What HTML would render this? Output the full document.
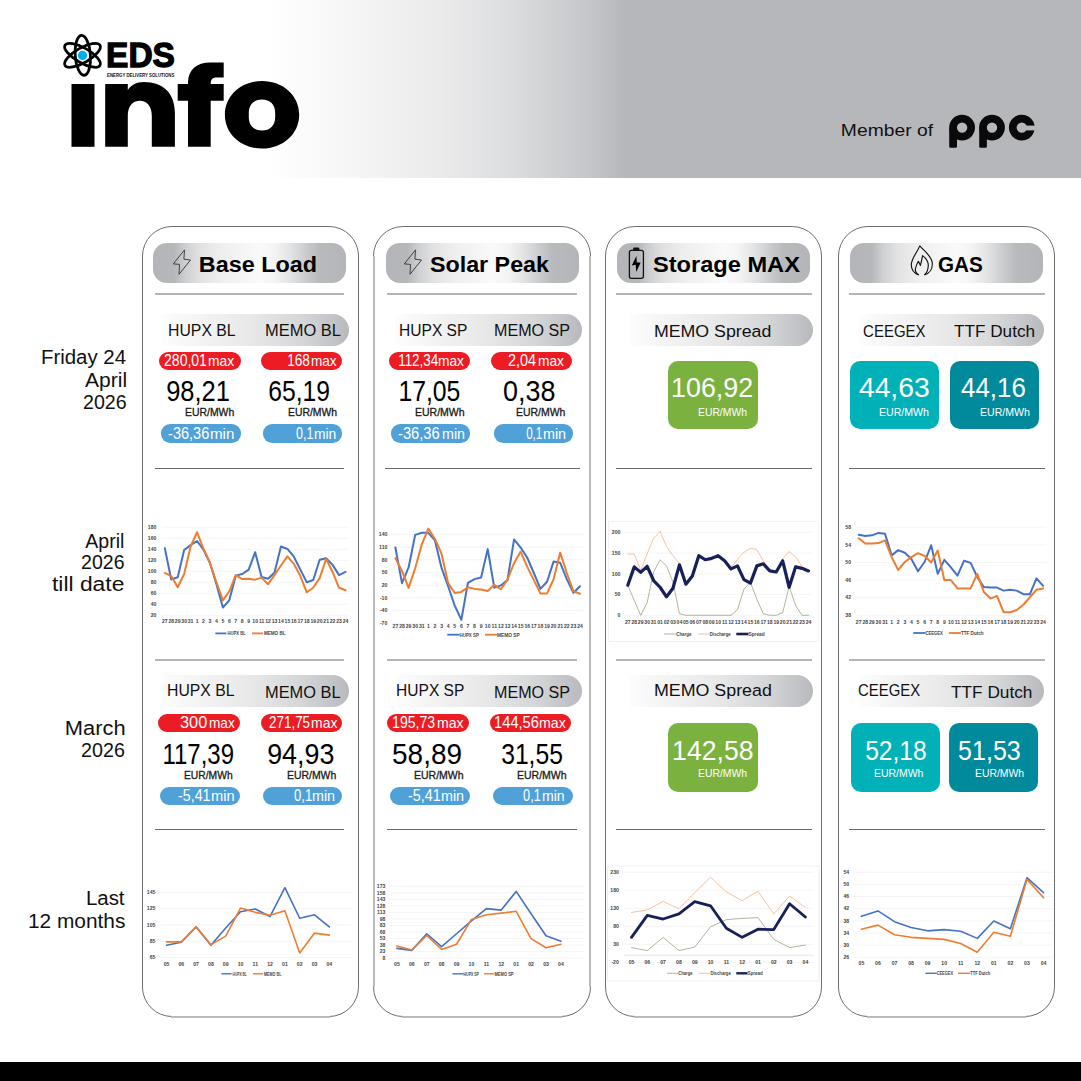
<!DOCTYPE html>
<html><head><meta charset="utf-8"><title>EDS info</title>
<style>
html,body{margin:0;padding:0;background:#fff}
body{width:1081px;height:1081px;position:relative;overflow:hidden;font-family:"Liberation Sans",sans-serif}
.t{position:absolute;white-space:nowrap}
.ax{font-family:"Liberation Sans",sans-serif;font-size:5.1px;fill:#444;font-weight:bold}
</style></head><body>
<div style="position:absolute;left:0px;top:0px;width:1081px;height:178px;background:linear-gradient(90deg,#fff 0px,#fff 268px,#f6f6f6 350px,#ebebec 440px,#dcdddf 512px,#c5c6c9 590px,#b6b7bb 625px,#b6b7bb 1081px)"></div>
<div style="position:absolute;left:0px;top:1062px;width:1081px;height:19px;background:#000"></div>
<svg style="position:absolute;left:0;top:0" width="400" height="178" viewBox="0 0 400 178">
<g fill="#000">
<rect x="71.5" y="84" width="23" height="62.8"/>
<path d="M105.2,84 H127.8 V90 C131,85.5 136,82 144,82 C163,82 174.9,93 174.9,113 V146.8 H151.8 V116 C151.8,106.5 147,100.8 139.8,100.8 C132.5,100.8 127.8,106.5 127.8,116 V146.8 H105.2 Z"/>
<path d="M188,146.8 V100.8 H177.7 V84 H188 V83 C188,70 196.5,62.6 210.5,62.6 H223.7 V77.5 H216.5 C212.5,77.5 210.7,79.5 210.7,83.5 V84 H223.7 V100.8 H210.7 V146.8 Z"/>
<path fill-rule="evenodd" d="M262,81 C283,81 299.2,95.5 299.2,114.8 C299.2,134 283,148.6 262,148.6 C241,148.6 224.9,134 224.9,114.8 C224.9,95.5 241,81 262,81 Z M262,99.6 C254,99.6 248.8,104.5 248.8,113 V117 C248.8,125.6 254,130.6 262,130.6 C270,130.6 275.2,125.6 275.2,117 V113 C275.2,104.5 270,99.6 262,99.6 Z"/>
</g>
<g fill="none" stroke="#000" stroke-width="2.8">
<ellipse cx="82.5" cy="55.3" rx="20.2" ry="7.4" transform="rotate(-30 82.5 55.3)"/>
<ellipse cx="82.5" cy="55.3" rx="20.2" ry="7.4" transform="rotate(30 82.5 55.3)"/>
<ellipse cx="82.8" cy="55.3" rx="7.6" ry="20" transform="rotate(-4 82.8 55.3)"/>
</g>
<circle cx="82.5" cy="55.4" r="4.6" fill="#00aeef"/>
</svg>
<div class="t" style="left:106.45px;top:37.00px;font-size:35px;line-height:35px;font-weight:bold;color:#000;transform:scaleX(0.9568);transform-origin:2.25px 29.63px;-webkit-text-stroke:1.3px #000;">EDS</div>
<div class="t" style="left:106.79px;top:73.00px;font-size:5.2px;line-height:5.2px;color:#111;transform:scaleX(0.8350);transform-origin:0.25px 4.40px;font-weight:bold;">ENERGY DELIVERY SOLUTIONS</div>
<div class="t" style="left:841.40px;top:122.00px;font-size:17.2px;line-height:17.2px;color:#111;transform:scaleX(1.1225);transform-origin:1.25px 14.56px;">Member of</div>
<svg style="position:absolute;left:940px;top:105px" width="110" height="50" viewBox="940 105 110 50">
<g fill="none" stroke="#0a0a0a" stroke-width="7.7">
<circle cx="962.1" cy="127.6" r="9.05"/><circle cx="992" cy="127.6" r="9.05"/><circle cx="1021.8" cy="127.6" r="9.05"/>
</g>
<g fill="#0a0a0a"><rect x="949.2" y="127.6" width="7.8" height="20.2" rx="1.4"/><rect x="979.2" y="127.6" width="7.7" height="20.2" rx="1.4"/></g>
<rect x="1024" y="125.6" width="13" height="4.8" fill="#b6b7bb"/>
</svg>
<div class="t" style="left:41.13px;top:348.00px;font-size:19.5px;line-height:19.5px;color:#111;transform:scaleX(1.0465);transform-origin:1.50px 16.51px;">Friday 24</div>
<div class="t" style="left:85.00px;top:371.00px;font-size:19.5px;line-height:19.5px;color:#111;transform:scaleX(1.0789);transform-origin:0.00px 16.51px;">April</div>
<div class="t" style="left:83.25px;top:393.00px;font-size:19.5px;line-height:19.5px;color:#111;transform:scaleX(1.0060);transform-origin:0.75px 16.51px;">2026</div>
<div class="t" style="left:85.30px;top:532.00px;font-size:19.5px;line-height:19.5px;color:#111;transform:scaleX(1.0000);transform-origin:0.00px 16.51px;">April</div>
<div class="t" style="left:81.10px;top:553.00px;font-size:19.5px;line-height:19.5px;color:#111;transform:scaleX(1.0000);transform-origin:0.75px 16.51px;">2026</div>
<div class="t" style="left:52.11px;top:575.00px;font-size:19.5px;line-height:19.5px;color:#111;transform:scaleX(1.1720);transform-origin:0.25px 16.51px;">till date</div>
<div class="t" style="left:64.92px;top:719.00px;font-size:19.5px;line-height:19.5px;color:#111;transform:scaleX(1.1223);transform-origin:1.50px 16.51px;">March</div>
<div class="t" style="left:81.44px;top:741.00px;font-size:19.5px;line-height:19.5px;color:#111;transform:scaleX(1.0108);transform-origin:0.75px 16.51px;">2026</div>
<div class="t" style="left:86.13px;top:889.00px;font-size:19.5px;line-height:19.5px;color:#111;transform:scaleX(1.0479);transform-origin:1.50px 16.51px;">Last</div>
<div class="t" style="left:28.06px;top:912.00px;font-size:19.5px;line-height:19.5px;color:#111;transform:scaleX(1.0700);transform-origin:1.25px 16.51px;">12 months</div>
<div style="position:absolute;left:142px;top:226px;width:217px;height:791px;box-sizing:border-box;border:1px solid #6e6e6e;border-radius:30px;background:#fff"></div>
<div style="position:absolute;left:171px;top:1016px;width:159px;height:2px;background:#bababa"></div>
<div style="position:absolute;left:373px;top:226px;width:218px;height:791px;box-sizing:border-box;border:1px solid #6e6e6e;border-radius:30px;background:#fff"></div>
<div style="position:absolute;left:402px;top:1016px;width:160px;height:2px;background:#bababa"></div>
<div style="position:absolute;left:373px;top:256px;width:2px;height:731px;background:#bababa"></div>
<div style="position:absolute;left:589px;top:256px;width:2px;height:731px;background:#bababa"></div>
<div style="position:absolute;left:605px;top:226px;width:217px;height:791px;box-sizing:border-box;border:1px solid #6e6e6e;border-radius:30px;background:#fff"></div>
<div style="position:absolute;left:634px;top:1016px;width:159px;height:2px;background:#bababa"></div>
<div style="position:absolute;left:838px;top:226px;width:217px;height:791px;box-sizing:border-box;border:1px solid #6e6e6e;border-radius:30px;background:#fff"></div>
<div style="position:absolute;left:867px;top:1016px;width:159px;height:2px;background:#bababa"></div>
<div style="position:absolute;left:153px;top:243px;width:192.5px;height:40px;border-radius:14px;background:linear-gradient(90deg,#b4b5b8 0%,#b6b7ba 11%,#cfd0d2 17%,#e3e3e4 25%,#eeeeef 35%,#fafafa 55%,#f4f4f4 63%,#e0e1e2 72%,#c9cacc 80%,#b9babd 86%,#b4b5b8 100%)"></div>
<div style="position:absolute;left:155px;top:293px;width:189.3px;height:2px;background:#b5b5b5"></div>
<div style="position:absolute;left:155px;top:467.7px;width:189.3px;height:1.3px;background:#6a6a6a"></div>
<div style="position:absolute;left:155px;top:659px;width:189.3px;height:2px;background:#b5b5b5"></div>
<div style="position:absolute;left:155px;top:828.7px;width:189.3px;height:1.3px;background:#6a6a6a"></div>
<div style="position:absolute;left:386px;top:243px;width:192.5px;height:40px;border-radius:14px;background:linear-gradient(90deg,#b4b5b8 0%,#b6b7ba 11%,#cfd0d2 17%,#e3e3e4 25%,#eeeeef 35%,#fafafa 55%,#f4f4f4 63%,#e0e1e2 72%,#c9cacc 80%,#b9babd 86%,#b4b5b8 100%)"></div>
<div style="position:absolute;left:386.8px;top:293px;width:190.59999999999997px;height:2px;background:#b5b5b5"></div>
<div style="position:absolute;left:384.7px;top:467.7px;width:195.7px;height:1.3px;background:#6a6a6a"></div>
<div style="position:absolute;left:386.8px;top:659px;width:190.59999999999997px;height:2px;background:#b5b5b5"></div>
<div style="position:absolute;left:386.8px;top:828.7px;width:190.59999999999997px;height:1.3px;background:#6a6a6a"></div>
<div style="position:absolute;left:617px;top:243px;width:192.5px;height:40px;border-radius:14px;background:linear-gradient(90deg,#b4b5b8 0%,#b6b7ba 11%,#cfd0d2 17%,#e3e3e4 25%,#eeeeef 35%,#fafafa 55%,#f4f4f4 63%,#e0e1e2 72%,#c9cacc 80%,#b9babd 86%,#b4b5b8 100%)"></div>
<div style="position:absolute;left:616.2px;top:293px;width:195.69999999999993px;height:2px;background:#b5b5b5"></div>
<div style="position:absolute;left:616.2px;top:467.7px;width:195.69999999999993px;height:1.3px;background:#6a6a6a"></div>
<div style="position:absolute;left:616.2px;top:659px;width:195.69999999999993px;height:2px;background:#b5b5b5"></div>
<div style="position:absolute;left:616.2px;top:828.7px;width:195.69999999999993px;height:1.3px;background:#6a6a6a"></div>
<div style="position:absolute;left:850px;top:243px;width:192.5px;height:40px;border-radius:14px;background:linear-gradient(90deg,#b4b5b8 0%,#b6b7ba 11%,#cfd0d2 17%,#e3e3e4 25%,#eeeeef 35%,#fafafa 55%,#f4f4f4 63%,#e0e1e2 72%,#c9cacc 80%,#b9babd 86%,#b4b5b8 100%)"></div>
<div style="position:absolute;left:848.9px;top:293px;width:195.80000000000007px;height:2px;background:#b5b5b5"></div>
<div style="position:absolute;left:848.9px;top:467.7px;width:195.80000000000007px;height:1.3px;background:#6a6a6a"></div>
<div style="position:absolute;left:848.9px;top:659px;width:195.80000000000007px;height:2px;background:#b5b5b5"></div>
<div style="position:absolute;left:848.9px;top:828.7px;width:195.80000000000007px;height:1.3px;background:#6a6a6a"></div>
<div class="t" style="left:198.62px;top:254.00px;font-size:21.2px;line-height:21.2px;font-weight:bold;color:#000;transform:scaleX(1.1026);transform-origin:1.25px 17.95px;">Base Load</div>
<div class="t" style="left:429.55px;top:254.00px;font-size:21.2px;line-height:21.2px;font-weight:bold;color:#000;transform:scaleX(1.0984);transform-origin:0.50px 17.95px;">Solar Peak</div>
<div class="t" style="left:652.64px;top:254.00px;font-size:21.2px;line-height:21.2px;font-weight:bold;color:#000;transform:scaleX(1.1147);transform-origin:0.50px 17.95px;">Storage MAX</div>
<div class="t" style="left:937.87px;top:254.00px;font-size:21.2px;line-height:21.2px;font-weight:bold;color:#000;transform:scaleX(0.9753);transform-origin:0.75px 17.95px;">GAS</div>
<svg style="position:absolute;left:165px;top:245px" width="32" height="34" viewBox="165 245 32 34"><path transform="translate(0 0)" d="M184.5,249.9 L173.3,263.9 L179.5,264.4 L179,274.3 L190.5,260 L183.9,259.2 Z" fill="none" stroke="#3a3a3a" stroke-width="0.95" stroke-linejoin="round"/></svg>
<svg style="position:absolute;left:395.6px;top:245px" width="32" height="34" viewBox="395.6 245 32 34"><path transform="translate(230.6 0)" d="M184.5,249.9 L173.3,263.9 L179.5,264.4 L179,274.3 L190.5,260 L183.9,259.2 Z" fill="none" stroke="#3a3a3a" stroke-width="0.95" stroke-linejoin="round"/></svg>
<svg style="position:absolute;left:622px;top:243px" width="30" height="40" viewBox="622 243 30 40"><path d="M633.1,250 V248.8 C633.1,248 633.8,247.5 634.6,247.5 H637.9 C638.7,247.5 639.4,248 639.4,248.8 V250 Z" fill="#111"/><rect x="629.4" y="250.3" width="14" height="28" rx="2" fill="none" stroke="#111" stroke-width="1.3"/><path d="M636.4,256 L631.8,265.4 L635.7,264.8 L636.2,271.9 L640.7,262.4 L636.8,262.6 Z" fill="#000"/></svg>
<svg style="position:absolute;left:905px;top:242px" width="35" height="38" viewBox="905 242 35 38"><g fill="none" stroke="#111" stroke-width="1.15" stroke-linejoin="round" stroke-linecap="round"><path d="M918.4,274.7 C914,273.2 911.3,269.5 911.3,264.8 C911.3,258.5 916.8,253 919.8,245.9 C924,250.8 931.4,255.8 932.2,262.5 C932.9,268.8 929.6,273.3 924.7,274.7"/><path d="M918.4,274.7 C916,273 914.9,270.8 915.5,268.4 C916.1,265.8 917,263.5 918.4,261.3 L920.4,265.4 C921.4,261.8 922,258.6 922.6,255.6 C926.2,258.3 928.4,261.8 928.3,265.6 C928.2,269.2 927,272.6 924.7,274.7"/></g></svg>
<div style="position:absolute;left:161px;top:313.5px;width:187.5px;height:32px;border-radius:0 16.2px 16.2px 0;background:linear-gradient(90deg,#fdfdfd 0%,#f4f4f4 20%,#e7e7e8 50%,#d5d6d8 75%,#c2c3c6 92%,#b8b9bc 100%)"></div>
<div style="position:absolute;left:161px;top:675.2px;width:187.5px;height:32px;border-radius:0 16.2px 16.2px 0;background:linear-gradient(90deg,#fdfdfd 0%,#f4f4f4 20%,#e7e7e8 50%,#d5d6d8 75%,#c2c3c6 92%,#b8b9bc 100%)"></div>
<div style="position:absolute;left:395.4px;top:313.5px;width:186.20000000000005px;height:32px;border-radius:0 16.2px 16.2px 0;background:linear-gradient(90deg,#fdfdfd 0%,#f4f4f4 20%,#e7e7e8 50%,#d5d6d8 75%,#c2c3c6 92%,#b8b9bc 100%)"></div>
<div style="position:absolute;left:395.4px;top:675.2px;width:186.20000000000005px;height:32px;border-radius:0 16.2px 16.2px 0;background:linear-gradient(90deg,#fdfdfd 0%,#f4f4f4 20%,#e7e7e8 50%,#d5d6d8 75%,#c2c3c6 92%,#b8b9bc 100%)"></div>
<div style="position:absolute;left:628.5px;top:313.5px;width:184.5px;height:32px;border-radius:0 16.2px 16.2px 0;background:linear-gradient(90deg,#fdfdfd 0%,#f4f4f4 20%,#e7e7e8 50%,#d5d6d8 75%,#c2c3c6 92%,#b8b9bc 100%)"></div>
<div style="position:absolute;left:628.5px;top:675.2px;width:184.5px;height:32px;border-radius:0 16.2px 16.2px 0;background:linear-gradient(90deg,#fdfdfd 0%,#f4f4f4 20%,#e7e7e8 50%,#d5d6d8 75%,#c2c3c6 92%,#b8b9bc 100%)"></div>
<div style="position:absolute;left:859.4px;top:313.5px;width:184.60000000000002px;height:32px;border-radius:0 16.2px 16.2px 0;background:linear-gradient(90deg,#fdfdfd 0%,#f4f4f4 20%,#e7e7e8 50%,#d5d6d8 75%,#c2c3c6 92%,#b8b9bc 100%)"></div>
<div style="position:absolute;left:859.4px;top:675.2px;width:184.60000000000002px;height:32px;border-radius:0 16.2px 16.2px 0;background:linear-gradient(90deg,#fdfdfd 0%,#f4f4f4 20%,#e7e7e8 50%,#d5d6d8 75%,#c2c3c6 92%,#b8b9bc 100%)"></div>
<div class="t" style="left:168.22px;top:323.00px;font-size:16.7px;line-height:16.7px;color:#111;transform:scaleX(0.9457);transform-origin:1.25px 14.14px;">HUPX BL</div>
<div class="t" style="left:264.77px;top:323.00px;font-size:16.7px;line-height:16.7px;color:#111;transform:scaleX(0.9854);transform-origin:1.25px 14.14px;">MEMO BL</div>
<div class="t" style="left:399.44px;top:323.00px;font-size:16.7px;line-height:16.7px;color:#111;transform:scaleX(0.9315);transform-origin:1.25px 14.14px;">HUPX SP</div>
<div class="t" style="left:493.70px;top:323.00px;font-size:16.7px;line-height:16.7px;color:#111;transform:scaleX(0.9636);transform-origin:1.25px 14.14px;">MEMO SP</div>
<div class="t" style="left:654.27px;top:324.00px;font-size:16.7px;line-height:16.7px;color:#111;transform:scaleX(1.0642);transform-origin:1.25px 14.14px;">MEMO Spread</div>
<div class="t" style="left:862.63px;top:324.00px;font-size:16.7px;line-height:16.7px;color:#111;transform:scaleX(0.8989);transform-origin:0.75px 14.14px;">CEEGEX</div>
<div class="t" style="left:954.34px;top:324.00px;font-size:16.7px;line-height:16.7px;color:#111;transform:scaleX(1.0284);transform-origin:0.25px 14.14px;">TTF Dutch</div>
<div class="t" style="left:166.92px;top:683.00px;font-size:16.7px;line-height:16.7px;color:#111;transform:scaleX(0.9443);transform-origin:1.25px 14.14px;">HUPX BL</div>
<div class="t" style="left:265.07px;top:685.00px;font-size:16.7px;line-height:16.7px;color:#111;transform:scaleX(0.9828);transform-origin:1.25px 14.14px;">MEMO BL</div>
<div class="t" style="left:396.14px;top:683.00px;font-size:16.7px;line-height:16.7px;color:#111;transform:scaleX(0.9315);transform-origin:1.25px 14.14px;">HUPX SP</div>
<div class="t" style="left:493.70px;top:685.00px;font-size:16.7px;line-height:16.7px;color:#111;transform:scaleX(0.9636);transform-origin:1.25px 14.14px;">MEMO SP</div>
<div class="t" style="left:654.26px;top:683.00px;font-size:16.7px;line-height:16.7px;color:#111;transform:scaleX(1.0688);transform-origin:1.25px 14.14px;">MEMO Spread</div>
<div class="t" style="left:858.33px;top:683.00px;font-size:16.7px;line-height:16.7px;color:#111;transform:scaleX(0.8931);transform-origin:0.75px 14.14px;">CEEGEX</div>
<div class="t" style="left:951.34px;top:685.00px;font-size:16.7px;line-height:16.7px;color:#111;transform:scaleX(1.0335);transform-origin:0.25px 14.14px;">TTF Dutch</div>
<div style="position:absolute;left:159.2px;top:351.9px;width:81.70000000000002px;height:18.2px;border-radius:9.1px;background:#ec1c24"></div>
<div class="t" style="left:164.34px;top:353.00px;font-size:16px;line-height:16px;color:#fff;transform:scaleX(0.8737);transform-origin:0.75px 13.54px;">280,01</div>
<div class="t" style="left:208.26px;top:355.00px;font-size:13.9px;line-height:13.9px;color:#fff;transform:scaleX(0.9922);transform-origin:0.75px 11.77px;">max</div>
<div style="position:absolute;left:261px;top:351.9px;width:81.39999999999998px;height:18.2px;border-radius:9.1px;background:#ec1c24"></div>
<div class="t" style="left:286.85px;top:353.00px;font-size:16px;line-height:16px;color:#fff;transform:scaleX(0.8520);transform-origin:1.00px 13.54px;">168</div>
<div class="t" style="left:310.87px;top:355.00px;font-size:13.9px;line-height:13.9px;color:#fff;transform:scaleX(0.9765);transform-origin:0.75px 11.77px;">max</div>
<div style="position:absolute;left:388.6px;top:351.9px;width:81.19999999999999px;height:18.2px;border-radius:9.1px;background:#ec1c24"></div>
<div class="t" style="left:397.66px;top:353.00px;font-size:16px;line-height:16px;color:#fff;transform:scaleX(0.8389);transform-origin:1.00px 13.54px;">112,34</div>
<div class="t" style="left:438.06px;top:355.00px;font-size:13.9px;line-height:13.9px;color:#fff;transform:scaleX(0.9882);transform-origin:0.75px 11.77px;">max</div>
<div style="position:absolute;left:490.5px;top:351.9px;width:81.20000000000005px;height:18.2px;border-radius:9.1px;background:#ec1c24"></div>
<div class="t" style="left:507.93px;top:353.00px;font-size:16px;line-height:16px;color:#fff;transform:scaleX(0.9000);transform-origin:0.75px 13.54px;">2,04</div>
<div class="t" style="left:537.96px;top:355.00px;font-size:13.9px;line-height:13.9px;color:#fff;transform:scaleX(0.9882);transform-origin:0.75px 11.77px;">max</div>
<div class="t" style="left:166.24px;top:376.00px;font-size:30px;line-height:30px;color:#000;transform:scaleX(0.8497);transform-origin:1.25px 25.39px;">98,21</div>
<div class="t" style="left:268.07px;top:376.00px;font-size:30px;line-height:30px;color:#000;transform:scaleX(0.8221);transform-origin:1.50px 25.39px;">65,19</div>
<div class="t" style="left:397.54px;top:376.00px;font-size:30px;line-height:30px;color:#000;transform:scaleX(0.8251);transform-origin:2.25px 25.39px;">17,05</div>
<div class="t" style="left:503.10px;top:376.00px;font-size:30px;line-height:30px;color:#000;transform:scaleX(0.8978);transform-origin:1.00px 25.39px;">0,38</div>
<div class="t" style="left:185.35px;top:408.00px;font-size:10.4px;line-height:10.4px;color:#1a1a1a;transform:scaleX(1.0031);transform-origin:0.75px 8.80px;-webkit-text-stroke:0.3px #1a1a1a;">EUR/MWh</div>
<div class="t" style="left:287.95px;top:408.00px;font-size:10.4px;line-height:10.4px;color:#1a1a1a;transform:scaleX(1.0010);transform-origin:0.75px 8.80px;-webkit-text-stroke:0.3px #1a1a1a;">EUR/MWh</div>
<div class="t" style="left:414.94px;top:408.00px;font-size:10.4px;line-height:10.4px;color:#1a1a1a;transform:scaleX(1.0115);transform-origin:0.75px 8.80px;-webkit-text-stroke:0.3px #1a1a1a;">EUR/MWh</div>
<div class="t" style="left:516.25px;top:408.00px;font-size:10.4px;line-height:10.4px;color:#1a1a1a;transform:scaleX(1.0052);transform-origin:0.75px 8.80px;-webkit-text-stroke:0.3px #1a1a1a;">EUR/MWh</div>
<div style="position:absolute;left:161.4px;top:424.4px;width:79.19999999999999px;height:18.2px;border-radius:9.1px;background:#4fa1d8"></div>
<div class="t" style="left:168.35px;top:426.00px;font-size:16px;line-height:16px;color:#fff;transform:scaleX(0.9085);transform-origin:0.50px 13.54px;">-36,36</div>
<div class="t" style="left:210.18px;top:428.00px;font-size:13.9px;line-height:13.9px;color:#fff;transform:scaleX(1.0952);transform-origin:0.75px 11.77px;">min</div>
<div style="position:absolute;left:263px;top:424.4px;width:79.39999999999998px;height:18.2px;border-radius:9.1px;background:#4fa1d8"></div>
<div class="t" style="left:296.41px;top:426.00px;font-size:16px;line-height:16px;color:#fff;transform:scaleX(0.7762);transform-origin:0.50px 13.54px;">0,1</div>
<div class="t" style="left:313.85px;top:428.00px;font-size:13.9px;line-height:13.9px;color:#fff;transform:scaleX(0.9952);transform-origin:0.75px 11.77px;">min</div>
<div style="position:absolute;left:391.3px;top:424.4px;width:78.80000000000001px;height:18.2px;border-radius:9.1px;background:#4fa1d8"></div>
<div class="t" style="left:398.04px;top:426.00px;font-size:16px;line-height:16px;color:#fff;transform:scaleX(0.9175);transform-origin:0.50px 13.54px;">-36,36</div>
<div class="t" style="left:441.63px;top:428.00px;font-size:13.9px;line-height:13.9px;color:#fff;transform:scaleX(1.0286);transform-origin:0.75px 11.77px;">min</div>
<div style="position:absolute;left:494.1px;top:424.4px;width:78.5px;height:18.2px;border-radius:9.1px;background:#4fa1d8"></div>
<div class="t" style="left:526.24px;top:426.00px;font-size:16px;line-height:16px;color:#fff;transform:scaleX(0.7286);transform-origin:0.50px 13.54px;">0,1</div>
<div class="t" style="left:542.93px;top:428.00px;font-size:13.9px;line-height:13.9px;color:#fff;transform:scaleX(1.0333);transform-origin:0.75px 11.77px;">min</div>
<div style="position:absolute;left:158px;top:714px;width:82px;height:18.2px;border-radius:9.1px;background:#ec1c24"></div>
<div class="t" style="left:180.19px;top:715.00px;font-size:16px;line-height:16px;color:#fff;transform:scaleX(1.0214);transform-origin:0.50px 13.54px;">300</div>
<div class="t" style="left:208.66px;top:717.00px;font-size:13.9px;line-height:13.9px;color:#fff;transform:scaleX(0.9804);transform-origin:0.75px 11.77px;">max</div>
<div style="position:absolute;left:261px;top:714px;width:81.39999999999998px;height:18.2px;border-radius:9.1px;background:#ec1c24"></div>
<div class="t" style="left:268.67px;top:715.00px;font-size:16px;line-height:16px;color:#fff;transform:scaleX(0.8358);transform-origin:0.75px 13.54px;">271,75</div>
<div class="t" style="left:310.64px;top:717.00px;font-size:13.9px;line-height:13.9px;color:#fff;transform:scaleX(1.0078);transform-origin:0.75px 11.77px;">max</div>
<div style="position:absolute;left:387.3px;top:714px;width:81.89999999999998px;height:18.2px;border-radius:9.1px;background:#ec1c24"></div>
<div class="t" style="left:392.42px;top:715.00px;font-size:16px;line-height:16px;color:#fff;transform:scaleX(0.8804);transform-origin:1.00px 13.54px;">195,73</div>
<div class="t" style="left:436.54px;top:717.00px;font-size:13.9px;line-height:13.9px;color:#fff;transform:scaleX(1.0157);transform-origin:0.75px 11.77px;">max</div>
<div style="position:absolute;left:489.9px;top:714px;width:81.60000000000002px;height:18.2px;border-radius:9.1px;background:#ec1c24"></div>
<div class="t" style="left:493.98px;top:715.00px;font-size:16px;line-height:16px;color:#fff;transform:scaleX(0.9164);transform-origin:1.00px 13.54px;">144,56</div>
<div class="t" style="left:539.04px;top:717.00px;font-size:13.9px;line-height:13.9px;color:#fff;transform:scaleX(1.0196);transform-origin:0.75px 11.77px;">max</div>
<div class="t" style="left:161.80px;top:739.00px;font-size:30px;line-height:30px;color:#000;transform:scaleX(0.7988);transform-origin:2.25px 25.39px;">117,39</div>
<div class="t" style="left:267.48px;top:739.00px;font-size:30px;line-height:30px;color:#000;transform:scaleX(0.8948);transform-origin:1.25px 25.39px;">94,93</div>
<div class="t" style="left:391.67px;top:739.00px;font-size:30px;line-height:30px;color:#000;transform:scaleX(0.9315);transform-origin:1.00px 25.39px;">58,89</div>
<div class="t" style="left:500.68px;top:739.00px;font-size:30px;line-height:30px;color:#000;transform:scaleX(0.8219);transform-origin:1.00px 25.39px;">31,55</div>
<div class="t" style="left:184.26px;top:771.00px;font-size:10.4px;line-height:10.4px;color:#1a1a1a;transform:scaleX(0.9906);transform-origin:0.75px 8.80px;-webkit-text-stroke:0.3px #1a1a1a;">EUR/MWh</div>
<div class="t" style="left:286.75px;top:771.00px;font-size:10.4px;line-height:10.4px;color:#1a1a1a;transform:scaleX(1.0031);transform-origin:0.75px 8.80px;-webkit-text-stroke:0.3px #1a1a1a;">EUR/MWh</div>
<div class="t" style="left:413.54px;top:771.00px;font-size:10.4px;line-height:10.4px;color:#1a1a1a;transform:scaleX(1.0115);transform-origin:0.75px 8.80px;-webkit-text-stroke:0.3px #1a1a1a;">EUR/MWh</div>
<div class="t" style="left:517.44px;top:771.00px;font-size:10.4px;line-height:10.4px;color:#1a1a1a;transform:scaleX(1.0115);transform-origin:0.75px 8.80px;-webkit-text-stroke:0.3px #1a1a1a;">EUR/MWh</div>
<div style="position:absolute;left:160.4px;top:786.6px;width:79.4px;height:18.2px;border-radius:9.1px;background:#4fa1d8"></div>
<div class="t" style="left:177.55px;top:788.00px;font-size:16px;line-height:16px;color:#fff;transform:scaleX(0.8908);transform-origin:0.50px 13.54px;">-5,41</div>
<div class="t" style="left:210.71px;top:790.00px;font-size:13.9px;line-height:13.9px;color:#fff;transform:scaleX(1.0571);transform-origin:0.75px 11.77px;">min</div>
<div style="position:absolute;left:263px;top:786.6px;width:79.39999999999998px;height:18.2px;border-radius:9.1px;background:#4fa1d8"></div>
<div class="t" style="left:293.89px;top:788.00px;font-size:16px;line-height:16px;color:#fff;transform:scaleX(0.8143);transform-origin:0.50px 13.54px;">0,1</div>
<div class="t" style="left:312.33px;top:790.00px;font-size:13.9px;line-height:13.9px;color:#fff;transform:scaleX(1.0286);transform-origin:0.75px 11.77px;">min</div>
<div style="position:absolute;left:390px;top:786.6px;width:79.89999999999998px;height:18.2px;border-radius:9.1px;background:#4fa1d8"></div>
<div class="t" style="left:407.85px;top:788.00px;font-size:16px;line-height:16px;color:#fff;transform:scaleX(0.8965);transform-origin:0.50px 13.54px;">-5,41</div>
<div class="t" style="left:440.83px;top:790.00px;font-size:13.9px;line-height:13.9px;color:#fff;transform:scaleX(1.0286);transform-origin:0.75px 11.77px;">min</div>
<div style="position:absolute;left:492.5px;top:786.6px;width:80.0px;height:18.2px;border-radius:9.1px;background:#4fa1d8"></div>
<div class="t" style="left:522.80px;top:788.00px;font-size:16px;line-height:16px;color:#fff;transform:scaleX(0.7905);transform-origin:0.50px 13.54px;">0,1</div>
<div class="t" style="left:541.74px;top:790.00px;font-size:13.9px;line-height:13.9px;color:#fff;transform:scaleX(1.0143);transform-origin:0.75px 11.77px;">min</div>
<div style="position:absolute;left:668.3px;top:361.3px;width:89.30000000000007px;height:68.0px;border-radius:10px;background:#7bb23f"></div>
<div class="t" style="left:671.11px;top:373.00px;font-size:28.3px;line-height:28.3px;color:#fff;transform:scaleX(0.9465);transform-origin:2.00px 23.96px;">106,92</div>
<div class="t" style="left:697.65px;top:408.00px;font-size:10.4px;line-height:10.4px;color:#fff;transform:scaleX(0.9969);transform-origin:0.75px 8.80px;">EUR/MWh</div>
<div style="position:absolute;left:850.1px;top:361.3px;width:89.0px;height:68.0px;border-radius:10px;background:#00b1b8"></div>
<div class="t" style="left:858.90px;top:373.00px;font-size:28.3px;line-height:28.3px;color:#fff;transform:scaleX(1.0000);transform-origin:0.50px 23.96px;">44,63</div>
<div class="t" style="left:879.04px;top:408.00px;font-size:10.4px;line-height:10.4px;color:#fff;transform:scaleX(1.0178);transform-origin:0.75px 8.80px;">EUR/MWh</div>
<div style="position:absolute;left:949.7px;top:361.3px;width:89.39999999999986px;height:68.0px;border-radius:10px;background:#008a9c"></div>
<div class="t" style="left:960.94px;top:373.00px;font-size:28.3px;line-height:28.3px;color:#fff;transform:scaleX(0.9145);transform-origin:0.50px 23.96px;">44,16</div>
<div class="t" style="left:980.04px;top:408.00px;font-size:10.4px;line-height:10.4px;color:#fff;transform:scaleX(1.0178);transform-origin:0.75px 8.80px;">EUR/MWh</div>
<div style="position:absolute;left:667.8px;top:722.8px;width:90.10000000000002px;height:68.80000000000007px;border-radius:10px;background:#7bb23f"></div>
<div class="t" style="left:671.62px;top:736.00px;font-size:28.3px;line-height:28.3px;color:#fff;transform:scaleX(0.9417);transform-origin:2.00px 23.96px;">142,58</div>
<div class="t" style="left:697.75px;top:769.00px;font-size:10.4px;line-height:10.4px;color:#fff;transform:scaleX(0.9990);transform-origin:0.75px 8.80px;">EUR/MWh</div>
<div style="position:absolute;left:850.5px;top:722.8px;width:89.10000000000002px;height:68.80000000000007px;border-radius:10px;background:#00b1b8"></div>
<div class="t" style="left:864.93px;top:736.00px;font-size:28.3px;line-height:28.3px;color:#fff;transform:scaleX(0.8686);transform-origin:1.00px 23.96px;">52,18</div>
<div class="t" style="left:873.94px;top:769.00px;font-size:10.4px;line-height:10.4px;color:#fff;transform:scaleX(1.0073);transform-origin:0.75px 8.80px;">EUR/MWh</div>
<div style="position:absolute;left:949.2px;top:722.8px;width:89.0px;height:68.80000000000007px;border-radius:10px;background:#008a9c"></div>
<div class="t" style="left:958.22px;top:736.00px;font-size:28.3px;line-height:28.3px;color:#fff;transform:scaleX(0.8847);transform-origin:1.00px 23.96px;">51,53</div>
<div class="t" style="left:975.45px;top:769.00px;font-size:10.4px;line-height:10.4px;color:#fff;transform:scaleX(1.0010);transform-origin:0.75px 8.80px;">EUR/MWh</div>
<svg style="position:absolute;left:0;top:0" width="1081" height="1081" viewBox="0 0 1081 1081"><rect x="607.4" y="866" width="211.7" height="114.9" fill="none" stroke="#eeeeee" stroke-width="0.8"/><rect x="608.5" y="521.3" width="209.6" height="120.2" fill="none" stroke="#eeeeee" stroke-width="0.8"/><line x1="161.2" x2="348.5" y1="527.20" y2="527.20" stroke="#f1f1f1" stroke-width="0.8"/><text x="156.3" y="529.00" text-anchor="end" class="ax">180</text><line x1="161.2" x2="348.5" y1="538.21" y2="538.21" stroke="#f1f1f1" stroke-width="0.8"/><text x="156.3" y="540.01" text-anchor="end" class="ax">160</text><line x1="161.2" x2="348.5" y1="549.23" y2="549.23" stroke="#f1f1f1" stroke-width="0.8"/><text x="156.3" y="551.02" text-anchor="end" class="ax">140</text><line x1="161.2" x2="348.5" y1="560.24" y2="560.24" stroke="#f1f1f1" stroke-width="0.8"/><text x="156.3" y="562.04" text-anchor="end" class="ax">120</text><line x1="161.2" x2="348.5" y1="571.25" y2="571.25" stroke="#f1f1f1" stroke-width="0.8"/><text x="156.3" y="573.05" text-anchor="end" class="ax">100</text><line x1="161.2" x2="348.5" y1="582.26" y2="582.26" stroke="#f1f1f1" stroke-width="0.8"/><text x="156.3" y="584.06" text-anchor="end" class="ax">80</text><line x1="161.2" x2="348.5" y1="593.27" y2="593.27" stroke="#f1f1f1" stroke-width="0.8"/><text x="156.3" y="595.07" text-anchor="end" class="ax">60</text><line x1="161.2" x2="348.5" y1="604.29" y2="604.29" stroke="#f1f1f1" stroke-width="0.8"/><text x="156.3" y="606.09" text-anchor="end" class="ax">40</text><line x1="161.2" x2="348.5" y1="615.30" y2="615.30" stroke="#f1f1f1" stroke-width="0.8"/><text x="156.3" y="617.10" text-anchor="end" class="ax">20</text><text x="164.80" y="622.60" text-anchor="middle" class="ax">27</text><text x="171.25" y="622.60" text-anchor="middle" class="ax">28</text><text x="177.71" y="622.60" text-anchor="middle" class="ax">29</text><text x="184.16" y="622.60" text-anchor="middle" class="ax">30</text><text x="190.61" y="622.60" text-anchor="middle" class="ax">31</text><text x="197.07" y="622.60" text-anchor="middle" class="ax">1</text><text x="203.52" y="622.60" text-anchor="middle" class="ax">2</text><text x="209.98" y="622.60" text-anchor="middle" class="ax">3</text><text x="216.43" y="622.60" text-anchor="middle" class="ax">4</text><text x="222.88" y="622.60" text-anchor="middle" class="ax">5</text><text x="229.34" y="622.60" text-anchor="middle" class="ax">6</text><text x="235.79" y="622.60" text-anchor="middle" class="ax">7</text><text x="242.24" y="622.60" text-anchor="middle" class="ax">8</text><text x="248.70" y="622.60" text-anchor="middle" class="ax">9</text><text x="255.15" y="622.60" text-anchor="middle" class="ax">10</text><text x="261.60" y="622.60" text-anchor="middle" class="ax">11</text><text x="268.06" y="622.60" text-anchor="middle" class="ax">12</text><text x="274.51" y="622.60" text-anchor="middle" class="ax">13</text><text x="280.96" y="622.60" text-anchor="middle" class="ax">14</text><text x="287.42" y="622.60" text-anchor="middle" class="ax">15</text><text x="293.87" y="622.60" text-anchor="middle" class="ax">16</text><text x="300.33" y="622.60" text-anchor="middle" class="ax">17</text><text x="306.78" y="622.60" text-anchor="middle" class="ax">18</text><text x="313.23" y="622.60" text-anchor="middle" class="ax">19</text><text x="319.69" y="622.60" text-anchor="middle" class="ax">20</text><text x="326.14" y="622.60" text-anchor="middle" class="ax">21</text><text x="332.59" y="622.60" text-anchor="middle" class="ax">22</text><text x="339.05" y="622.60" text-anchor="middle" class="ax">23</text><text x="345.50" y="622.60" text-anchor="middle" class="ax">24</text><polyline points="164.80,548.12 171.25,579.51 177.71,577.31 184.16,550.00 190.61,545.10 197.07,540.97 203.52,549.78 209.98,562.99 216.43,584.19 222.88,607.59 229.34,600.05 235.79,575.65 242.24,574.00 248.70,569.60 255.15,552.20 261.60,577.03 268.06,578.68 274.51,572.57 280.96,546.47 287.42,548.95 293.87,556.71 300.33,569.60 306.78,582.26 313.23,580.06 319.69,559.69 326.14,558.31 332.59,564.86 339.05,575.10 345.50,571.97" fill="none" stroke="#4472c4" stroke-width="2.0" stroke-linejoin="round" stroke-linecap="round"/><polyline points="164.80,572.96 171.25,576.04 177.71,587.22 184.16,574.00 190.61,546.47 197.07,532.27 203.52,548.67 209.98,562.99 216.43,582.26 222.88,600.43 229.34,591.29 235.79,575.10 242.24,579.07 248.70,578.68 255.15,579.67 261.60,577.64 268.06,584.19 274.51,575.10 280.96,565.47 287.42,556.38 293.87,563.82 300.33,576.04 306.78,592.28 313.23,587.77 319.69,578.08 326.14,558.75 332.59,571.97 339.05,587.77 345.50,590.25" fill="none" stroke="#ed7d31" stroke-width="2.0" stroke-linejoin="round" stroke-linecap="round"/><line x1="215.3" x2="226.5" y1="633.4" y2="633.4" stroke="#4472c4" stroke-width="1.8"/><text x="227.5" y="635.1999999999999" class="ax" textLength="18.3" lengthAdjust="spacingAndGlyphs">HUPX BL</text><line x1="252" x2="263" y1="633.4" y2="633.4" stroke="#ed7d31" stroke-width="1.8"/><text x="264" y="635.1999999999999" class="ax" textLength="21.5" lengthAdjust="spacingAndGlyphs">MEMO BL</text><line x1="392.1" x2="583.3" y1="534.30" y2="534.30" stroke="#f1f1f1" stroke-width="0.8"/><text x="387.3" y="536.10" text-anchor="end" class="ax">140</text><line x1="392.1" x2="583.3" y1="547.01" y2="547.01" stroke="#f1f1f1" stroke-width="0.8"/><text x="387.3" y="548.81" text-anchor="end" class="ax">110</text><line x1="392.1" x2="583.3" y1="559.73" y2="559.73" stroke="#f1f1f1" stroke-width="0.8"/><text x="387.3" y="561.53" text-anchor="end" class="ax">80</text><line x1="392.1" x2="583.3" y1="572.44" y2="572.44" stroke="#f1f1f1" stroke-width="0.8"/><text x="387.3" y="574.24" text-anchor="end" class="ax">50</text><line x1="392.1" x2="583.3" y1="585.16" y2="585.16" stroke="#f1f1f1" stroke-width="0.8"/><text x="387.3" y="586.96" text-anchor="end" class="ax">20</text><line x1="392.1" x2="583.3" y1="597.87" y2="597.87" stroke="#f1f1f1" stroke-width="0.8"/><text x="387.3" y="599.67" text-anchor="end" class="ax">-10</text><line x1="392.1" x2="583.3" y1="610.59" y2="610.59" stroke="#f1f1f1" stroke-width="0.8"/><text x="387.3" y="612.39" text-anchor="end" class="ax">-40</text><line x1="392.1" x2="583.3" y1="623.30" y2="623.30" stroke="#f1f1f1" stroke-width="0.8"/><text x="387.3" y="625.10" text-anchor="end" class="ax">-70</text><text x="395.40" y="627.70" text-anchor="middle" class="ax">27</text><text x="401.99" y="627.70" text-anchor="middle" class="ax">28</text><text x="408.59" y="627.70" text-anchor="middle" class="ax">29</text><text x="415.18" y="627.70" text-anchor="middle" class="ax">30</text><text x="421.77" y="627.70" text-anchor="middle" class="ax">31</text><text x="428.36" y="627.70" text-anchor="middle" class="ax">1</text><text x="434.96" y="627.70" text-anchor="middle" class="ax">2</text><text x="441.55" y="627.70" text-anchor="middle" class="ax">3</text><text x="448.14" y="627.70" text-anchor="middle" class="ax">4</text><text x="454.74" y="627.70" text-anchor="middle" class="ax">5</text><text x="461.33" y="627.70" text-anchor="middle" class="ax">6</text><text x="467.92" y="627.70" text-anchor="middle" class="ax">7</text><text x="474.51" y="627.70" text-anchor="middle" class="ax">8</text><text x="481.11" y="627.70" text-anchor="middle" class="ax">9</text><text x="487.70" y="627.70" text-anchor="middle" class="ax">10</text><text x="494.29" y="627.70" text-anchor="middle" class="ax">11</text><text x="500.89" y="627.70" text-anchor="middle" class="ax">12</text><text x="507.48" y="627.70" text-anchor="middle" class="ax">13</text><text x="514.07" y="627.70" text-anchor="middle" class="ax">14</text><text x="520.66" y="627.70" text-anchor="middle" class="ax">15</text><text x="527.26" y="627.70" text-anchor="middle" class="ax">16</text><text x="533.85" y="627.70" text-anchor="middle" class="ax">17</text><text x="540.44" y="627.70" text-anchor="middle" class="ax">18</text><text x="547.04" y="627.70" text-anchor="middle" class="ax">19</text><text x="553.63" y="627.70" text-anchor="middle" class="ax">20</text><text x="560.22" y="627.70" text-anchor="middle" class="ax">21</text><text x="566.81" y="627.70" text-anchor="middle" class="ax">22</text><text x="573.41" y="627.70" text-anchor="middle" class="ax">23</text><text x="580.00" y="627.70" text-anchor="middle" class="ax">24</text><polyline points="395.40,547.52 401.99,583.17 408.59,567.48 415.18,534.89 421.77,532.69 428.36,532.86 434.96,540.40 441.55,567.91 448.14,586.22 454.74,605.58 461.33,619.82 467.92,582.78 474.51,579.10 481.11,577.53 487.70,549.13 494.29,587.66 500.89,585.41 507.48,580.11 514.07,539.39 520.66,547.52 527.26,557.74 533.85,572.99 540.44,588.89 547.04,581.77 553.63,561.42 560.22,562.82 566.81,579.10 573.41,592.74 580.00,586.22" fill="none" stroke="#4472c4" stroke-width="2.0" stroke-linejoin="round" stroke-linecap="round"/><polyline points="395.40,558.12 401.99,570.96 408.59,587.87 415.18,568.29 421.77,544.47 428.36,528.58 434.96,538.96 441.55,553.67 448.14,583.17 454.74,592.96 461.33,591.94 467.92,587.28 474.51,588.89 481.11,589.48 487.70,591.09 494.29,584.82 500.89,589.27 507.48,579.73 514.07,563.20 520.66,551.59 527.26,566.89 533.85,580.11 540.44,593.38 547.04,593.38 553.63,579.10 560.22,552.61 566.81,572.99 573.41,591.30 580.00,593.76" fill="none" stroke="#ed7d31" stroke-width="2.0" stroke-linejoin="round" stroke-linecap="round"/><line x1="447.3" x2="459.5" y1="634.7" y2="634.7" stroke="#4472c4" stroke-width="1.8"/><text x="459.5" y="636.5" class="ax" textLength="19.4" lengthAdjust="spacingAndGlyphs">HUPX SP</text><line x1="485" x2="497" y1="634.7" y2="634.7" stroke="#ed7d31" stroke-width="1.8"/><text x="497" y="636.5" class="ax" textLength="22.6" lengthAdjust="spacingAndGlyphs">MEMO SP</text><line x1="624.6" x2="811.7" y1="532.30" y2="532.30" stroke="#f1f1f1" stroke-width="0.8"/><text x="620.3" y="534.10" text-anchor="end" class="ax">200</text><line x1="624.6" x2="811.7" y1="553.05" y2="553.05" stroke="#f1f1f1" stroke-width="0.8"/><text x="620.3" y="554.85" text-anchor="end" class="ax">150</text><line x1="624.6" x2="811.7" y1="573.80" y2="573.80" stroke="#f1f1f1" stroke-width="0.8"/><text x="620.3" y="575.60" text-anchor="end" class="ax">100</text><line x1="624.6" x2="811.7" y1="594.55" y2="594.55" stroke="#f1f1f1" stroke-width="0.8"/><text x="620.3" y="596.35" text-anchor="end" class="ax">50</text><line x1="624.6" x2="811.7" y1="615.30" y2="615.30" stroke="#f1f1f1" stroke-width="0.8"/><text x="620.3" y="617.10" text-anchor="end" class="ax">0</text><text x="627.80" y="623.60" text-anchor="middle" class="ax">27</text><text x="634.25" y="623.60" text-anchor="middle" class="ax">28</text><text x="640.71" y="623.60" text-anchor="middle" class="ax">29</text><text x="647.16" y="623.60" text-anchor="middle" class="ax">30</text><text x="653.61" y="623.60" text-anchor="middle" class="ax">31</text><text x="660.07" y="623.60" text-anchor="middle" class="ax">01</text><text x="666.52" y="623.60" text-anchor="middle" class="ax">02</text><text x="672.97" y="623.60" text-anchor="middle" class="ax">03</text><text x="679.43" y="623.60" text-anchor="middle" class="ax">04</text><text x="685.88" y="623.60" text-anchor="middle" class="ax">05</text><text x="692.34" y="623.60" text-anchor="middle" class="ax">06</text><text x="698.79" y="623.60" text-anchor="middle" class="ax">07</text><text x="705.24" y="623.60" text-anchor="middle" class="ax">08</text><text x="711.70" y="623.60" text-anchor="middle" class="ax">09</text><text x="718.15" y="623.60" text-anchor="middle" class="ax">10</text><text x="724.60" y="623.60" text-anchor="middle" class="ax">11</text><text x="731.06" y="623.60" text-anchor="middle" class="ax">12</text><text x="737.51" y="623.60" text-anchor="middle" class="ax">13</text><text x="743.96" y="623.60" text-anchor="middle" class="ax">14</text><text x="750.42" y="623.60" text-anchor="middle" class="ax">15</text><text x="756.87" y="623.60" text-anchor="middle" class="ax">16</text><text x="763.33" y="623.60" text-anchor="middle" class="ax">17</text><text x="769.78" y="623.60" text-anchor="middle" class="ax">18</text><text x="776.23" y="623.60" text-anchor="middle" class="ax">19</text><text x="782.69" y="623.60" text-anchor="middle" class="ax">20</text><text x="789.14" y="623.60" text-anchor="middle" class="ax">21</text><text x="795.59" y="623.60" text-anchor="middle" class="ax">22</text><text x="802.05" y="623.60" text-anchor="middle" class="ax">23</text><text x="808.50" y="623.60" text-anchor="middle" class="ax">24</text><polyline points="627.80,585.21 634.25,600.44 640.71,615.30 647.16,602.48 653.61,571.97 660.07,559.77 666.52,565.87 672.97,582.14 679.43,613.68 685.88,615.30 692.34,615.30 698.79,615.30 705.24,615.30 711.70,615.30 718.15,615.30 724.60,615.30 731.06,615.30 737.51,609.61 743.96,589.28 750.42,582.14 756.87,599.45 763.33,613.68 769.78,615.30 776.23,615.30 782.69,612.64 789.14,586.21 795.59,605.55 802.05,615.30 808.50,615.30" fill="none" stroke="#9ea282" stroke-width="0.8" stroke-linejoin="round" stroke-linecap="round"/><polyline points="627.80,554.09 634.25,554.09 640.71,570.36 647.16,553.67 653.61,538.40 660.07,531.26 666.52,546.53 672.97,555.71 679.43,563.42 685.88,584.17 692.34,576.04 698.79,555.71 705.24,559.77 711.70,558.32 718.15,555.71 724.60,560.77 731.06,567.57 737.51,559.36 743.96,552.22 750.42,548.15 756.87,549.61 763.33,560.77 769.78,570.94 776.23,571.97 782.69,558.74 789.14,551.64 795.59,556.70 802.05,566.87 808.50,570.94" fill="none" stroke="#f5b183" stroke-width="0.8" stroke-linejoin="round" stroke-linecap="round"/><polyline points="627.80,585.21 634.25,566.87 640.71,572.39 647.16,566.29 653.61,580.52 660.07,587.25 666.52,596.79 672.97,588.24 679.43,564.84 685.88,584.17 692.34,576.04 698.79,555.71 705.24,559.77 711.70,558.32 718.15,555.71 724.60,560.77 731.06,568.90 737.51,565.87 743.96,579.69 750.42,583.14 756.87,565.87 763.33,563.84 769.78,570.94 776.23,571.97 782.69,560.77 789.14,587.25 795.59,566.87 802.05,568.32 808.50,570.94" fill="none" stroke="#18205a" stroke-width="3.2" stroke-linejoin="round" stroke-linecap="round"/><line x1="664" x2="676.2" y1="634" y2="634" stroke="#9ea282" stroke-width="0.8"/><text x="676.2" y="635.8" class="ax" textLength="15.3" lengthAdjust="spacingAndGlyphs">Charge</text><line x1="698.6" x2="709.8" y1="634" y2="634" stroke="#f5b183" stroke-width="0.8"/><text x="709.8" y="635.8" class="ax" textLength="21.0" lengthAdjust="spacingAndGlyphs">Discharge</text><line x1="736.3" x2="748.5" y1="634" y2="634" stroke="#18205a" stroke-width="2.6"/><text x="748.5" y="635.8" class="ax" textLength="16.2" lengthAdjust="spacingAndGlyphs">Spread</text><line x1="855.4" x2="1046.4" y1="527.20" y2="527.20" stroke="#f1f1f1" stroke-width="0.8"/><text x="851" y="529.00" text-anchor="end" class="ax">58</text><line x1="855.4" x2="1046.4" y1="544.82" y2="544.82" stroke="#f1f1f1" stroke-width="0.8"/><text x="851" y="546.62" text-anchor="end" class="ax">54</text><line x1="855.4" x2="1046.4" y1="562.44" y2="562.44" stroke="#f1f1f1" stroke-width="0.8"/><text x="851" y="564.24" text-anchor="end" class="ax">50</text><line x1="855.4" x2="1046.4" y1="580.06" y2="580.06" stroke="#f1f1f1" stroke-width="0.8"/><text x="851" y="581.86" text-anchor="end" class="ax">46</text><line x1="855.4" x2="1046.4" y1="597.68" y2="597.68" stroke="#f1f1f1" stroke-width="0.8"/><text x="851" y="599.48" text-anchor="end" class="ax">42</text><line x1="855.4" x2="1046.4" y1="615.30" y2="615.30" stroke="#f1f1f1" stroke-width="0.8"/><text x="851" y="617.10" text-anchor="end" class="ax">38</text><text x="858.70" y="623.60" text-anchor="middle" class="ax">27</text><text x="865.29" y="623.60" text-anchor="middle" class="ax">28</text><text x="871.87" y="623.60" text-anchor="middle" class="ax">29</text><text x="878.46" y="623.60" text-anchor="middle" class="ax">30</text><text x="885.04" y="623.60" text-anchor="middle" class="ax">31</text><text x="891.63" y="623.60" text-anchor="middle" class="ax">1</text><text x="898.21" y="623.60" text-anchor="middle" class="ax">2</text><text x="904.80" y="623.60" text-anchor="middle" class="ax">3</text><text x="911.39" y="623.60" text-anchor="middle" class="ax">4</text><text x="917.97" y="623.60" text-anchor="middle" class="ax">5</text><text x="924.56" y="623.60" text-anchor="middle" class="ax">6</text><text x="931.14" y="623.60" text-anchor="middle" class="ax">7</text><text x="937.73" y="623.60" text-anchor="middle" class="ax">8</text><text x="944.31" y="623.60" text-anchor="middle" class="ax">9</text><text x="950.90" y="623.60" text-anchor="middle" class="ax">10</text><text x="957.49" y="623.60" text-anchor="middle" class="ax">11</text><text x="964.07" y="623.60" text-anchor="middle" class="ax">12</text><text x="970.66" y="623.60" text-anchor="middle" class="ax">13</text><text x="977.24" y="623.60" text-anchor="middle" class="ax">14</text><text x="983.83" y="623.60" text-anchor="middle" class="ax">15</text><text x="990.41" y="623.60" text-anchor="middle" class="ax">16</text><text x="997.00" y="623.60" text-anchor="middle" class="ax">17</text><text x="1003.59" y="623.60" text-anchor="middle" class="ax">18</text><text x="1010.17" y="623.60" text-anchor="middle" class="ax">19</text><text x="1016.76" y="623.60" text-anchor="middle" class="ax">20</text><text x="1023.34" y="623.60" text-anchor="middle" class="ax">21</text><text x="1029.93" y="623.60" text-anchor="middle" class="ax">22</text><text x="1036.51" y="623.60" text-anchor="middle" class="ax">23</text><text x="1043.10" y="623.60" text-anchor="middle" class="ax">24</text><polyline points="858.70,534.73 865.29,536.01 871.87,535.35 878.46,532.93 885.04,533.81 891.63,555.39 898.21,550.11 904.80,552.75 911.39,558.92 917.97,571.25 924.56,562.00 931.14,545.26 937.73,573.89 944.31,559.80 950.90,567.29 957.49,575.65 964.07,560.68 970.66,562.88 977.24,576.98 983.83,587.11 990.41,587.55 997.00,587.55 1003.59,590.63 1010.17,589.75 1016.76,590.63 1023.34,594.16 1029.93,594.16 1036.51,578.30 1043.10,585.79" fill="none" stroke="#4472c4" stroke-width="2.0" stroke-linejoin="round" stroke-linecap="round"/><polyline points="858.70,538.21 865.29,543.50 871.87,543.50 878.46,543.06 885.04,540.42 891.63,557.15 898.21,569.93 904.80,562.00 911.39,557.15 917.97,553.19 924.56,555.83 931.14,562.44 937.73,550.55 944.31,580.06 950.90,580.06 957.49,588.43 964.07,588.43 970.66,588.43 977.24,573.89 983.83,591.95 990.41,598.56 997.00,595.92 1003.59,612.22 1010.17,612.22 1016.76,610.01 1023.34,604.73 1029.93,597.24 1036.51,589.75 1043.10,588.43" fill="none" stroke="#ed7d31" stroke-width="2.0" stroke-linejoin="round" stroke-linecap="round"/><line x1="913.3" x2="925.5" y1="633" y2="633" stroke="#4472c4" stroke-width="1.8"/><text x="925.5" y="634.8" class="ax" textLength="17.3" lengthAdjust="spacingAndGlyphs">CEEGEX</text><line x1="948.9" x2="961" y1="633" y2="633" stroke="#ed7d31" stroke-width="1.8"/><text x="961" y="634.8" class="ax" textLength="22.5" lengthAdjust="spacingAndGlyphs">TTF Dutch</text><line x1="154" x2="351.6" y1="892.40" y2="892.40" stroke="#f1f1f1" stroke-width="0.8"/><text x="155.3" y="894.20" text-anchor="end" class="ax">145</text><line x1="154" x2="351.6" y1="908.67" y2="908.67" stroke="#f1f1f1" stroke-width="0.8"/><text x="155.3" y="910.47" text-anchor="end" class="ax">125</text><line x1="154" x2="351.6" y1="924.95" y2="924.95" stroke="#f1f1f1" stroke-width="0.8"/><text x="155.3" y="926.75" text-anchor="end" class="ax">105</text><line x1="154" x2="351.6" y1="941.23" y2="941.23" stroke="#f1f1f1" stroke-width="0.8"/><text x="155.3" y="943.02" text-anchor="end" class="ax">85</text><line x1="154" x2="351.6" y1="957.50" y2="957.50" stroke="#f1f1f1" stroke-width="0.8"/><text x="155.3" y="959.30" text-anchor="end" class="ax">65</text><text x="166.50" y="965.80" text-anchor="middle" class="ax">05</text><text x="181.30" y="965.80" text-anchor="middle" class="ax">06</text><text x="196.10" y="965.80" text-anchor="middle" class="ax">07</text><text x="210.90" y="965.80" text-anchor="middle" class="ax">08</text><text x="225.70" y="965.80" text-anchor="middle" class="ax">09</text><text x="240.50" y="965.80" text-anchor="middle" class="ax">10</text><text x="255.30" y="965.80" text-anchor="middle" class="ax">11</text><text x="270.10" y="965.80" text-anchor="middle" class="ax">12</text><text x="284.90" y="965.80" text-anchor="middle" class="ax">01</text><text x="299.70" y="965.80" text-anchor="middle" class="ax">02</text><text x="314.50" y="965.80" text-anchor="middle" class="ax">03</text><text x="329.30" y="965.80" text-anchor="middle" class="ax">04</text><polyline points="166.50,945.29 181.30,942.24 196.10,926.98 210.90,945.29 225.70,928.00 240.50,911.73 255.30,909.08 270.10,916.41 284.90,887.72 299.70,918.24 314.50,914.78 329.30,926.98" fill="none" stroke="#4472c4" stroke-width="1.6" stroke-linejoin="round" stroke-linecap="round"/><polyline points="166.50,941.84 181.30,941.84 196.10,926.58 210.90,944.68 225.70,936.14 240.50,908.06 255.30,912.34 270.10,915.18 284.90,910.71 299.70,953.02 314.50,933.09 329.30,935.12" fill="none" stroke="#ed7d31" stroke-width="1.6" stroke-linejoin="round" stroke-linecap="round"/><line x1="221.4" x2="231.6" y1="973.8" y2="973.8" stroke="#4472c4" stroke-width="1.4"/><text x="232.6" y="975.5999999999999" class="ax" textLength="14.2" lengthAdjust="spacingAndGlyphs">HUPX BL</text><line x1="253" x2="263.1" y1="973.8" y2="973.8" stroke="#ed7d31" stroke-width="1.4"/><text x="264" y="975.5999999999999" class="ax" textLength="17.4" lengthAdjust="spacingAndGlyphs">MEMO BL</text><line x1="389.3" x2="583.7" y1="886.30" y2="886.30" stroke="#f1f1f1" stroke-width="0.8"/><text x="385.3" y="888.10" text-anchor="end" class="ax">173</text><line x1="389.3" x2="583.7" y1="892.83" y2="892.83" stroke="#f1f1f1" stroke-width="0.8"/><text x="385.3" y="894.63" text-anchor="end" class="ax">158</text><line x1="389.3" x2="583.7" y1="899.35" y2="899.35" stroke="#f1f1f1" stroke-width="0.8"/><text x="385.3" y="901.15" text-anchor="end" class="ax">143</text><line x1="389.3" x2="583.7" y1="905.88" y2="905.88" stroke="#f1f1f1" stroke-width="0.8"/><text x="385.3" y="907.68" text-anchor="end" class="ax">128</text><line x1="389.3" x2="583.7" y1="912.41" y2="912.41" stroke="#f1f1f1" stroke-width="0.8"/><text x="385.3" y="914.21" text-anchor="end" class="ax">113</text><line x1="389.3" x2="583.7" y1="918.94" y2="918.94" stroke="#f1f1f1" stroke-width="0.8"/><text x="385.3" y="920.74" text-anchor="end" class="ax">98</text><line x1="389.3" x2="583.7" y1="925.46" y2="925.46" stroke="#f1f1f1" stroke-width="0.8"/><text x="385.3" y="927.26" text-anchor="end" class="ax">83</text><line x1="389.3" x2="583.7" y1="931.99" y2="931.99" stroke="#f1f1f1" stroke-width="0.8"/><text x="385.3" y="933.79" text-anchor="end" class="ax">68</text><line x1="389.3" x2="583.7" y1="938.52" y2="938.52" stroke="#f1f1f1" stroke-width="0.8"/><text x="385.3" y="940.32" text-anchor="end" class="ax">53</text><line x1="389.3" x2="583.7" y1="945.05" y2="945.05" stroke="#f1f1f1" stroke-width="0.8"/><text x="385.3" y="946.85" text-anchor="end" class="ax">38</text><line x1="389.3" x2="583.7" y1="951.57" y2="951.57" stroke="#f1f1f1" stroke-width="0.8"/><text x="385.3" y="953.37" text-anchor="end" class="ax">23</text><line x1="389.3" x2="583.7" y1="958.10" y2="958.10" stroke="#f1f1f1" stroke-width="0.8"/><text x="385.3" y="959.90" text-anchor="end" class="ax">8</text><text x="396.90" y="965.80" text-anchor="middle" class="ax">05</text><text x="411.81" y="965.80" text-anchor="middle" class="ax">06</text><text x="426.72" y="965.80" text-anchor="middle" class="ax">07</text><text x="441.63" y="965.80" text-anchor="middle" class="ax">08</text><text x="456.54" y="965.80" text-anchor="middle" class="ax">09</text><text x="471.45" y="965.80" text-anchor="middle" class="ax">10</text><text x="486.35" y="965.80" text-anchor="middle" class="ax">11</text><text x="501.26" y="965.80" text-anchor="middle" class="ax">12</text><text x="516.17" y="965.80" text-anchor="middle" class="ax">01</text><text x="531.08" y="965.80" text-anchor="middle" class="ax">02</text><text x="545.99" y="965.80" text-anchor="middle" class="ax">03</text><text x="560.90" y="965.80" text-anchor="middle" class="ax">04</text><polyline points="396.90,948.35 411.81,950.40 426.72,933.73 441.63,946.70 456.54,933.73 471.45,920.89 486.35,908.67 501.26,910.10 516.17,891.39 531.08,913.76 545.99,935.73 560.90,941.22" fill="none" stroke="#4472c4" stroke-width="1.6" stroke-linejoin="round" stroke-linecap="round"/><polyline points="396.90,945.92 411.81,949.96 426.72,935.52 441.63,949.40 456.54,944.26 471.45,919.46 486.35,914.76 501.26,913.15 516.17,911.32 531.08,938.56 545.99,947.74 560.90,944.26" fill="none" stroke="#ed7d31" stroke-width="1.6" stroke-linejoin="round" stroke-linecap="round"/><line x1="452.4" x2="463.6" y1="973.8" y2="973.8" stroke="#4472c4" stroke-width="1.4"/><text x="463.6" y="975.5999999999999" class="ax" textLength="15.3" lengthAdjust="spacingAndGlyphs">HUPX SP</text><line x1="484" x2="494.1" y1="973.8" y2="973.8" stroke="#ed7d31" stroke-width="1.4"/><text x="494.5" y="975.5999999999999" class="ax" textLength="19.0" lengthAdjust="spacingAndGlyphs">MEMO SP</text><line x1="624.3" x2="813.6" y1="872.20" y2="872.20" stroke="#f1f1f1" stroke-width="0.8"/><text x="618.8" y="874.00" text-anchor="end" class="ax">230</text><line x1="624.3" x2="813.6" y1="890.24" y2="890.24" stroke="#f1f1f1" stroke-width="0.8"/><text x="618.8" y="892.04" text-anchor="end" class="ax">180</text><line x1="624.3" x2="813.6" y1="908.28" y2="908.28" stroke="#f1f1f1" stroke-width="0.8"/><text x="618.8" y="910.08" text-anchor="end" class="ax">130</text><line x1="624.3" x2="813.6" y1="926.32" y2="926.32" stroke="#f1f1f1" stroke-width="0.8"/><text x="618.8" y="928.12" text-anchor="end" class="ax">80</text><line x1="624.3" x2="813.6" y1="944.36" y2="944.36" stroke="#f1f1f1" stroke-width="0.8"/><text x="618.8" y="946.16" text-anchor="end" class="ax">30</text><line x1="624.3" x2="813.6" y1="962.40" y2="962.40" stroke="#f1f1f1" stroke-width="0.8"/><text x="618.8" y="964.20" text-anchor="end" class="ax">-20</text><line x1="624.3" x2="813.6" y1="955.18" y2="955.18" stroke="#d9d9d9" stroke-width="0.7"/><text x="631.50" y="964.20" text-anchor="middle" class="ax">05</text><text x="647.31" y="964.20" text-anchor="middle" class="ax">06</text><text x="663.12" y="964.20" text-anchor="middle" class="ax">07</text><text x="678.93" y="964.20" text-anchor="middle" class="ax">08</text><text x="694.74" y="964.20" text-anchor="middle" class="ax">09</text><text x="710.55" y="964.20" text-anchor="middle" class="ax">10</text><text x="726.35" y="964.20" text-anchor="middle" class="ax">11</text><text x="742.16" y="964.20" text-anchor="middle" class="ax">12</text><text x="757.97" y="964.20" text-anchor="middle" class="ax">01</text><text x="773.78" y="964.20" text-anchor="middle" class="ax">02</text><text x="789.59" y="964.20" text-anchor="middle" class="ax">03</text><text x="805.40" y="964.20" text-anchor="middle" class="ax">04</text><polyline points="631.50,947.54 647.31,950.60 663.12,937.36 678.93,950.60 694.74,947.14 710.55,926.75 726.35,919.65 742.16,918.42 757.97,917.59 773.78,939.38 789.59,947.54 805.40,945.08" fill="none" stroke="#9ea282" stroke-width="0.8" stroke-linejoin="round" stroke-linecap="round"/><polyline points="631.50,912.50 647.31,909.87 663.12,901.32 678.93,908.86 694.74,892.55 710.55,877.29 726.35,891.94 742.16,900.70 757.97,891.14 773.78,913.94 789.59,896.01 805.40,907.41" fill="none" stroke="#f5b183" stroke-width="0.8" stroke-linejoin="round" stroke-linecap="round"/><polyline points="631.50,937.36 647.31,915.35 663.12,919.03 678.93,913.94 694.74,901.71 710.55,905.79 726.35,928.20 742.16,937.36 757.97,929.21 773.78,929.60 789.59,903.77 805.40,917.01" fill="none" stroke="#18205a" stroke-width="2.8" stroke-linejoin="round" stroke-linecap="round"/><line x1="667" x2="678.3" y1="973.3" y2="973.3" stroke="#9ea282" stroke-width="0.8"/><text x="678.3" y="975.0999999999999" class="ax" textLength="14.2" lengthAdjust="spacingAndGlyphs">Charge</text><line x1="698.6" x2="709.8" y1="973.3" y2="973.3" stroke="#f5b183" stroke-width="0.8"/><text x="710.4" y="975.0999999999999" class="ax" textLength="20.4" lengthAdjust="spacingAndGlyphs">Discharge</text><line x1="736.3" x2="747.5" y1="973.3" y2="973.3" stroke="#18205a" stroke-width="2.4"/><text x="747.5" y="975.0999999999999" class="ax" textLength="15.2" lengthAdjust="spacingAndGlyphs">Spread</text><line x1="853.2" x2="1052.7" y1="872.20" y2="872.20" stroke="#f1f1f1" stroke-width="0.8"/><text x="849.2" y="874.00" text-anchor="end" class="ax">54</text><line x1="853.2" x2="1052.7" y1="884.36" y2="884.36" stroke="#f1f1f1" stroke-width="0.8"/><text x="849.2" y="886.16" text-anchor="end" class="ax">50</text><line x1="853.2" x2="1052.7" y1="896.51" y2="896.51" stroke="#f1f1f1" stroke-width="0.8"/><text x="849.2" y="898.31" text-anchor="end" class="ax">46</text><line x1="853.2" x2="1052.7" y1="908.67" y2="908.67" stroke="#f1f1f1" stroke-width="0.8"/><text x="849.2" y="910.47" text-anchor="end" class="ax">42</text><line x1="853.2" x2="1052.7" y1="920.83" y2="920.83" stroke="#f1f1f1" stroke-width="0.8"/><text x="849.2" y="922.63" text-anchor="end" class="ax">38</text><line x1="853.2" x2="1052.7" y1="932.99" y2="932.99" stroke="#f1f1f1" stroke-width="0.8"/><text x="849.2" y="934.79" text-anchor="end" class="ax">34</text><line x1="853.2" x2="1052.7" y1="945.14" y2="945.14" stroke="#f1f1f1" stroke-width="0.8"/><text x="849.2" y="946.94" text-anchor="end" class="ax">30</text><line x1="853.2" x2="1052.7" y1="957.30" y2="957.30" stroke="#f1f1f1" stroke-width="0.8"/><text x="849.2" y="959.10" text-anchor="end" class="ax">26</text><text x="861.40" y="965.20" text-anchor="middle" class="ax">05</text><text x="877.95" y="965.20" text-anchor="middle" class="ax">06</text><text x="894.51" y="965.20" text-anchor="middle" class="ax">07</text><text x="911.06" y="965.20" text-anchor="middle" class="ax">08</text><text x="927.62" y="965.20" text-anchor="middle" class="ax">09</text><text x="944.17" y="965.20" text-anchor="middle" class="ax">10</text><text x="960.73" y="965.20" text-anchor="middle" class="ax">11</text><text x="977.28" y="965.20" text-anchor="middle" class="ax">12</text><text x="993.84" y="965.20" text-anchor="middle" class="ax">01</text><text x="1010.39" y="965.20" text-anchor="middle" class="ax">02</text><text x="1026.95" y="965.20" text-anchor="middle" class="ax">03</text><text x="1043.50" y="965.20" text-anchor="middle" class="ax">04</text><polyline points="861.40,916.36 877.95,910.89 894.51,921.68 911.06,927.58 927.62,930.83 944.17,929.61 960.73,931.22 977.28,938.37 993.84,921.07 1010.39,928.79 1026.95,877.70 1043.50,892.56" fill="none" stroke="#4472c4" stroke-width="1.6" stroke-linejoin="round" stroke-linecap="round"/><polyline points="861.40,929.19 877.95,925.11 894.51,934.69 911.06,937.33 927.62,938.37 944.17,939.37 960.73,943.44 977.28,952.19 993.84,932.26 1010.39,936.33 1026.95,879.31 1043.50,897.64" fill="none" stroke="#ed7d31" stroke-width="1.6" stroke-linejoin="round" stroke-linecap="round"/><line x1="925.5" x2="936.7" y1="973.3" y2="973.3" stroke="#4472c4" stroke-width="1.4"/><text x="936.7" y="975.0999999999999" class="ax" textLength="16.3" lengthAdjust="spacingAndGlyphs">CEEGEX</text><line x1="958" x2="970.2" y1="973.3" y2="973.3" stroke="#ed7d31" stroke-width="1.4"/><text x="970.2" y="975.0999999999999" class="ax" textLength="20.0" lengthAdjust="spacingAndGlyphs">TTF Dutch</text></svg>
</body></html>
